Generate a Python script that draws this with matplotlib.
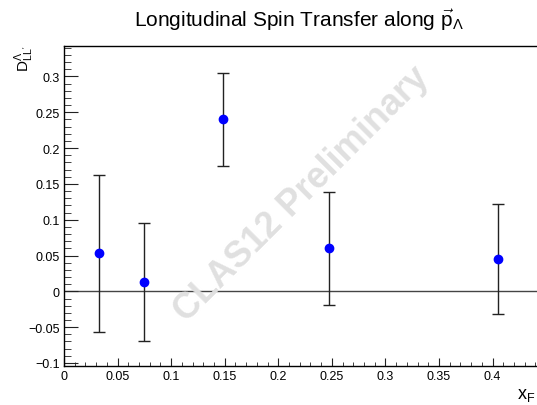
import matplotlib
matplotlib.use('Agg')
import matplotlib.pyplot as plt
from matplotlib.ticker import MultipleLocator

plt.rcParams['font.family'] = ['Liberation Sans', 'DejaVu Sans']
plt.rcParams['mathtext.fontset'] = 'custom'
plt.rcParams['mathtext.rm'] = 'Liberation Sans'
plt.rcParams['mathtext.it'] = 'Liberation Sans'
plt.rcParams['mathtext.bf'] = 'Liberation Sans:bold'

# D_LL' values per x_F bin
x_f = [0.033, 0.075, 0.148, 0.2475, 0.405]
d_ll = [0.053, 0.013, 0.240, 0.060, 0.045]
d_err = [0.110, 0.083, 0.065, 0.079, 0.077]

W, H = 537, 406


def main():
    fig = plt.figure(figsize=(W / 100, H / 100), dpi=100)
    # axes run past the right edge of the picture, as in the reference
    ax = fig.add_axes([64 / W, (H - 366.5) / H, 479 / W, (366.5 - 47.3) / H])
    ax.set_xlim(0, 0.447)
    ax.set_ylim(-0.1035, 0.342)

    ax.axhline(0, color='#444444', lw=1.0, zorder=1)
    ax.errorbar(x_f, d_ll, yerr=d_err, fmt='o', color='blue', ms=6,
                ecolor='#222222', elinewidth=1.0, capsize=4, capthick=1.0,
                zorder=3)

    ax.xaxis.set_major_locator(MultipleLocator(0.05))
    ax.xaxis.set_minor_locator(MultipleLocator(0.01))
    ax.yaxis.set_major_locator(MultipleLocator(0.05))
    ax.yaxis.set_minor_locator(MultipleLocator(0.01))
    ax.xaxis.set_major_formatter(plt.FuncFormatter(lambda v, p: f'{v:g}'))
    ax.yaxis.set_major_formatter(
        plt.FuncFormatter(lambda v, p: f'{v:g}'.replace('-', '\u2212')))
    ax.tick_params(axis='both', which='both', direction='in',
                   labelsize=9, color='#222222', pad=3)
    ax.tick_params(axis='y', which='major', length=10)
    ax.tick_params(axis='y', which='minor', length=5)
    ax.tick_params(axis='x', which='major', length=6)
    ax.tick_params(axis='x', which='minor', length=3)
    for side in ('top', 'right', 'left', 'bottom'):
        ax.spines[side].set_linewidth(1.0)

    fig.text(299 / W, 1 - 27 / H,
             r'Longitudinal Spin Transfer along $\vec{\mathrm{p}}_{\Lambda}$',
             ha='center', va='baseline', fontsize=15)
    fig.text(24 / W, 1 - 46 / H, r"$\mathrm{D}^{\Lambda}_{\mathrm{LL'}}$",
             rotation=90, ha='center', va='top', fontsize=11)
    fig.text(535 / W, 1 - 399 / H, r'$\mathrm{x}_{\mathrm{F}}$',
             ha='right', va='baseline', fontsize=13)

    fig.text(302 / W, 1 - 195 / H, 'CLAS12 Preliminary', rotation=45,
             ha='center', va='center', fontsize=26, fontweight='bold',
             color='#e0e0e0', zorder=0)

    fig.savefig('out.png', dpi=100)


if __name__ == '__main__':
    main()
